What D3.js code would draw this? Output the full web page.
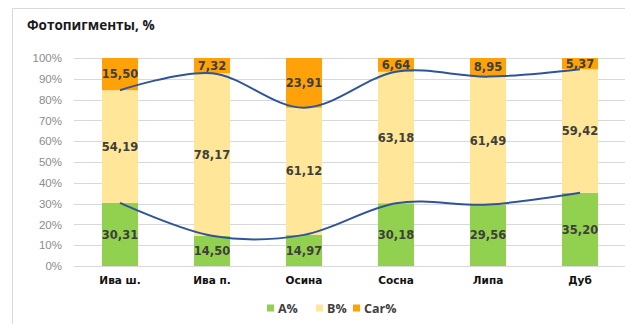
<!DOCTYPE html>
<html>
<head>
<meta charset="utf-8">
<script src="https://cdn.jsdelivr.net/npm/d3@7"></script>
<style>
  html, body { margin: 0; padding: 0; background: #fff; }
  svg { display: block; }
</style>
</head>
<body>
<svg id="chart" width="625" height="324"></svg>
<script>
// Pigment composition by tree species, percent of total
const categories = ["Ива ш.", "Ива п.", "Осина", "Сосна", "Липа", "Дуб"];
const seriesA   = [30.31, 14.50, 14.97, 30.18, 29.56, 35.20];
const seriesB   = [54.19, 78.17, 61.12, 63.18, 61.49, 59.42];
const seriesCar = [15.50, 7.32, 23.91, 6.64, 8.95, 5.37];
const yTicks    = [0, 10, 20, 30, 40, 50, 60, 70, 80, 90, 100];
const seriesNames = ["A%", "B%", "Car%"];

const colors = { "A%": "#92d050", "B%": "#ffe699", "Car%": "#ffa20a" };
const lineColor = "#2f5597";
const fmt = v => v.toFixed(2).replace(".", ",");

const svg = d3.select("#chart");

// chart frame
svg.append("rect")
  .attr("x", 12.5).attr("y", 8.5)
  .attr("width", 700).attr("height", 400)
  .attr("fill", "#fff").attr("stroke", "#d9d9d9");

svg.append("text")
  .attr("x", 27).attr("y", 30)
  .attr("font-family", "Open Sans, sans-serif")
  .attr("font-size", 13.5).attr("font-weight", "bold")
  .attr("fill", "#1a1a1a")
  .text("Фотопигменты, %");

const x = d3.scaleBand()
  .domain(categories)
  .range([74, 626])
  .paddingInner(0.6087)
  .paddingOuter(0.3043);

const y = d3.scaleLinear().domain([0, 100]).range([266, 58]);

// gridlines
svg.append("g").selectAll("line")
  .data(yTicks)
  .join("line")
  .attr("x1", 74).attr("x2", 625)
  .attr("y1", d => Math.round(y(d)) + 0.5)
  .attr("y2", d => Math.round(y(d)) + 0.5)
  .attr("stroke", "#d9d9d9").attr("stroke-width", 1);

// y axis labels
const yAxis = d3.axisLeft(y).tickValues(yTicks).tickSize(0).tickPadding(0)
  .tickFormat(d => d + "%");
const gy = svg.append("g").attr("transform", "translate(62,0)").call(yAxis);
gy.select(".domain").remove();
gy.selectAll("text")
  .attr("font-family", "Liberation Sans, Arial, sans-serif")
  .attr("font-size", 11.5).attr("fill", "#8c8c8c");

// stacked bars
const rows = categories.map((c, i) => ({ cat: c, "A%": seriesA[i], "B%": seriesB[i], "Car%": seriesCar[i] }));
const stacked = d3.stack().keys(seriesNames)(rows);

const layers = svg.append("g").selectAll("g")
  .data(stacked)
  .join("g")
  .attr("fill", d => colors[d.key]);

layers.selectAll("rect")
  .data(d => d)
  .join("rect")
  .attr("x", d => x(d.data.cat))
  .attr("width", x.bandwidth())
  .attr("y", d => y(d[1]))
  .attr("height", d => y(d[0]) - y(d[1]));

// smoothed trend lines along stack boundaries
const cx = c => x(c) + x.bandwidth() / 2;
const line = d3.line().curve(d3.curveCardinal.tension(0));
const boundaryA  = categories.map((c, i) => [cx(c), y(seriesA[i])]);
const boundaryAB = categories.map((c, i) => [cx(c), y(seriesA[i] + seriesB[i])]);

svg.append("g").selectAll("path")
  .data([boundaryA, boundaryAB])
  .join("path")
  .attr("d", line)
  .attr("fill", "none")
  .attr("stroke", lineColor)
  .attr("stroke-width", 2);

// value labels
const labels = svg.append("g");
stacked.forEach(layer => {
  labels.selectAll(null)
    .data(layer)
    .join("text")
    .attr("x", d => cx(d.data.cat))
    .attr("y", d => y((d[0] + d[1]) / 2))
    .attr("dy", "0.36em")
    .attr("text-anchor", "middle")
    .attr("font-family", "DejaVu Sans, sans-serif")
    .attr("font-size", 11.5).attr("font-weight", "bold")
    .attr("fill", "#3f3f3a")
    .text(d => fmt(d.data[layer.key]));
});

// x axis labels
const xAxis = d3.axisBottom(x).tickSize(0).tickPadding(0);
const gx = svg.append("g").attr("transform", "translate(0,277)").call(xAxis);
gx.select(".domain").remove();
gx.selectAll("text")
  .attr("font-family", "DejaVu Sans, sans-serif")
  .attr("font-size", 10.5).attr("font-weight", "bold")
  .attr("fill", "#111");

// legend
const legendX = [267, 316, 353];
const legend = svg.append("g").selectAll("g")
  .data(seriesNames)
  .join("g")
  .attr("transform", (d, i) => `translate(${legendX[i]},308)`);
legend.append("rect")
  .attr("x", 0).attr("y", -3.5).attr("width", 7).attr("height", 7)
  .attr("fill", d => colors[d]);
legend.append("text")
  .attr("x", 11).attr("dy", "0.36em")
  .attr("font-family", "Open Sans, sans-serif")
  .attr("font-size", 12.5).attr("font-weight", "bold")
  .attr("fill", "#404040")
  .text(d => d);
</script>
</body>
</html>
